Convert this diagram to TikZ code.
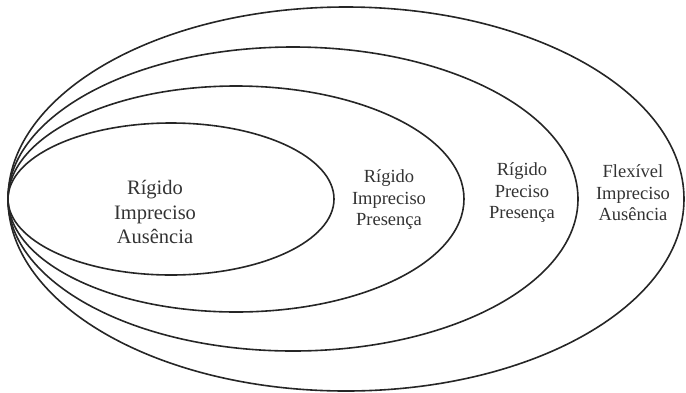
\documentclass[tikz,border=0pt]{standalone}
\usepackage{fontspec}
\setmainfont{Liberation Serif}
\usepackage{tikz}
\usetikzlibrary{positioning}

\begin{document}
\begin{tikzpicture}[x=1pt,y=-1pt]
    \tikzset{ring/.style={draw=black!85,line width=1.6pt},
      lbl/.style={align=center,inner sep=0pt,text=black!80,font=\fontsize{18.5}{21.5}\selectfont}}
    \useasboundingbox (0,0) rectangle (686,392);
    % nested sets, all touching at the left
    \foreach \cx/\rx/\ry in {171/163/76,236/228/113,293/285/152,346/338/192}{
      \draw[ring] (\cx,199) ellipse ({\rx pt} and {\ry pt});
    }
    \node[lbl,font=\fontsize{20.5}{24.5}\selectfont] (inner) at (155,212) {Rígido\\Impreciso\\Ausência};
    \node[lbl] (second) at (389,200) {Rígido\\Impreciso\\Presença};
    \node[lbl] (third) at (522,193) {Rígido\\Preciso\\Presença};
    \node[lbl] (outer) at (633,193) {Flexível\\Impreciso\\Ausência};
\end{tikzpicture}
\end{document}
